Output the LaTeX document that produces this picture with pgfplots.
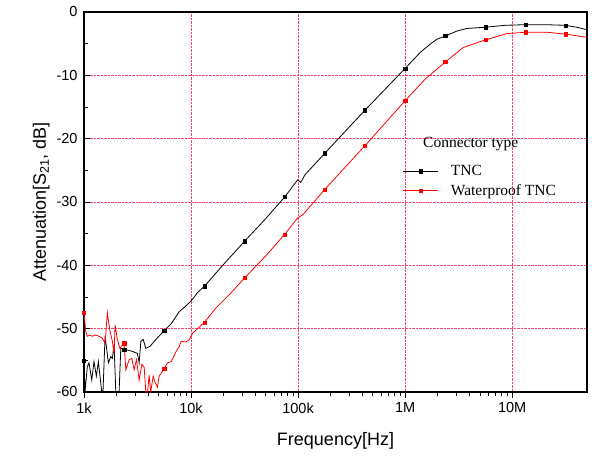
\documentclass[border=0pt]{standalone}
\usepackage{pgfplots}
\pgfplotsset{compat=1.18}
\usepackage{fontspec}
\setmainfont{Liberation Sans}
\newfontfamily\serifleg{Liberation Serif}
\definecolor{gridred}{RGB}{238,70,110}
\begin{document}
\begin{tikzpicture}
\begin{axis}[
  scale only axis, width=503pt, height=380pt,
  xmode=log, xmin=1000, xmax=5e7, ymin=-60, ymax=0,
  xtick={1e3,1e4,1e5,1e6,1e7},
  xticklabels={1k,10k,100k,1M,10M},
  ytick={-60,-50,-40,-30,-20,-10,0},
  minor y tick num=1,
  /pgf/number format/assume math mode=true,
  tick pos=left,
  xtick align=outside, ytick align=inside,
  major tick length=6pt, minor tick length=3.5pt,
  tick style={black, line width=0.9pt},
  axis line style={black, line width=1.3pt},
  ticklabel style={font=\fontsize{14.5}{16}\selectfont},
  xticklabel style={yshift=-1pt},
  yticklabel style={xshift=-3pt},
  xmajorgrids, ymajorgrids,
  major grid style={gridred, densely dotted, line width=0.8pt},
  xlabel={Frequency[Hz]}, ylabel={Attenuation[S\textsubscript{21}, dB]},
  label style={font=\fontsize{18}{20}\selectfont},
  xlabel style={yshift=-12pt},
  ylabel style={yshift=0pt},
  legend style={draw=none, fill=none, at={(0.628,0.607)}, anchor=north west,
    font=\serifleg\fontsize{15.5}{18}\selectfont, row sep=3pt},
  legend cell align=left,
  legend image code/.code={\draw[mark repeat=2,mark phase=2,#1] plot coordinates {(0pt,0pt)(17.5pt,0pt)(35pt,0pt)};},
]
\addlegendimage{black, line width=0.8pt, mark=square*, mark size=1.6pt}
\addlegendentry{\hspace*{10pt}TNC}
\addlegendimage{red, line width=0.8pt, mark=square*, mark size=1.6pt}
\addlegendentry{\hspace*{10pt}Waterproof TNC}

\node[anchor=base west, font=\serifleg\fontsize{15.5}{18}\selectfont, inner sep=0pt] at (rel axis cs:0.674,0.643) {Connector type};

% TNC line
\addplot[black, line width=0.8pt, forget plot] coordinates {
(1000,-55.0) (1022,-60) (1074,-56.0) (1114,-55.4) (1181,-58.1) (1240,-55.2)
(1304,-57.5) (1362,-55.2) (1465,-60) (1507,-59.7) (1573,-51.2) (1618,-52.8)
(1690,-55.4) (1778,-54.4) (1841,-54.7) (1910,-52.5) (1981,-60) (2127,-60)
(2206,-53.1) (2371,-53.3) (2459,-53.3) (2838,-53.6) (3159,-53.9) (3276,-55.4)
(3397,-52.0) (3571,-51.7) (3780,-53.1) (4128,-52.8) (4698,-51.7) (5623,-50.3)
(6539,-49.2) (7775,-47.3) (8700,-46.6) (9640,-45.9) (10500,-45.2) (11500,-44.3)
(13335,-43.3) (20000,-39.9) (31623,-36.2) (50000,-32.6) (74989,-29.2)
(99100,-26.5) (106000,-26.9) (116000,-25.7) (177828,-22.3) (421697,-15.5)
(1000000,-8.9) (1380000,-6.4) (1710000,-5.1) (1980000,-4.3) (2371000,-3.8)
(3050000,-3.0) (3780000,-2.6) (5623000,-2.4) (8600000,-2.1) (13335000,-2.0)
(20000000,-2.0) (31623000,-2.1) (40000000,-2.4) (50000000,-2.8)
};
\addplot[black, only marks, mark=square*, mark size=1.6pt, forget plot] coordinates {
(1000,-55.0) (2371,-53.3) (5623,-50.3) (13335,-43.3) (31623,-36.2) (74989,-29.2)
(177828,-22.3) (421697,-15.5) (1000000,-8.9) (2371000,-3.8) (5623000,-2.4)
(13335000,-2.0) (31623000,-2.1)
};

% Waterproof TNC line
\addplot[red, line width=0.8pt, forget plot] coordinates {
(1000,-47.5) (1038,-50.4) (1074,-51.2) (1130,-51.0) (1196,-51.2) (1286,-51.0)
(1382,-51.2) (1484,-51.5) (1573,-52.3) (1654,-47.5) (1741,-50.2) (1841,-52.0)
(1910,-53.9) (1952,-49.4) (2050,-51.7) (2161,-53.1) (2371,-52.3) (2459,-56.5)
(2640,-54.9) (2799,-54.7) (2940,-56.5) (3093,-54.9) (3276,-58.1) (3474,-55.6)
(3650,-56.1) (3780,-60) (3920,-60) (4060,-57.4) (4200,-60) (4430,-57.5)
(4635,-58.6) (4857,-59.2) (5040,-57.5) (5623,-56.3) (6030,-55.4) (6539,-55.2)
(7256,-53.6) (7775,-52.8) (8060,-52.0) (8980,-52.1) (9640,-51.7) (10360,-50.7)
(13335,-49.0) (17150,-46.7) (22850,-44.6) (31623,-42.0) (50000,-38.5) (74989,-35.1)
(99100,-32.5) (111000,-32.0) (177828,-28.0) (421697,-21.1) (721000,-16.7)
(1000000,-14.0) (1540000,-10.6) (2371000,-7.9) (3490000,-5.6) (5623000,-4.4)
(8970000,-3.4) (13335000,-3.2) (21300000,-3.2) (31623000,-3.5) (50000000,-4.0)
};
\addplot[red, only marks, mark=square*, mark size=1.6pt, forget plot] coordinates {
(1000,-47.5) (2371,-52.3) (5623,-56.3) (13335,-49.0) (31623,-42.0) (74989,-35.1)
(177828,-28.0) (421697,-21.1) (1000000,-14.0) (2371000,-7.9) (5623000,-4.4)
(13335000,-3.2) (31623000,-3.5)
};
\end{axis}
\path (current axis.south west) ++(-84pt,-64pt) rectangle ++(592pt,456pt);
\end{tikzpicture}
\end{document}
